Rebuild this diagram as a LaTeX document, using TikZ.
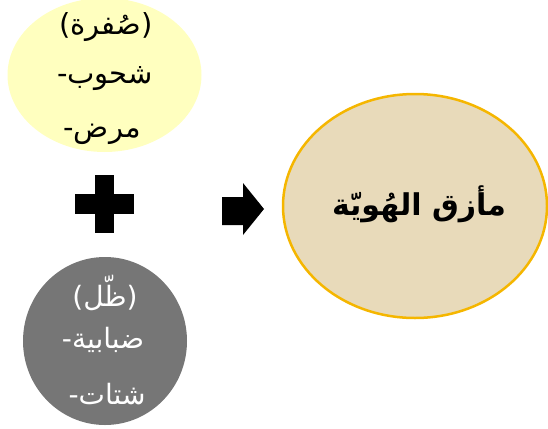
\documentclass[tikz,border=0pt]{standalone}
\usepackage{fontspec}
\usepackage{tikz}
\usetikzlibrary{
    shapes.geometric
}
\TeXXeTstate=1
\newfontfamily\arabicfont[Script=Arabic]{DejaVu Sans}
\newfontfamily\latinfont{DejaVu Sans}
\newcommand{\artxt}[1]{\beginR #1\endR}
\newcommand{\lt}[1]{\mbox{\latinfont #1}}
\tikzset{
  bubble/.style = {ellipse, inner sep=0pt, draw=none},
  ytxt/.style   = {font=\arabicfont\fontsize{29}{33}\selectfont, text=black},
  gtxt/.style   = {font=\arabicfont\fontsize{28}{32}\selectfont, text=white},
  ctxt/.style   = {font=\arabicfont\bfseries\fontsize{30}{34}\selectfont, text=black},
  sign/.style   = {fill=black}
}
\definecolor{SoftYellow}{RGB}{255,255,191}
\definecolor{ShadeGray}{RGB}{118,118,118}
\definecolor{Parchment}{RGB}{232,218,186}
\definecolor{GoldLine}{RGB}{245,182,0}

\begin{document}
\begin{tikzpicture}[x=1pt, y=-1pt]
\useasboundingbox (0,0) rectangle (548,428);
% two states on the left
\node[bubble, fill=SoftYellow, minimum width=194pt, minimum height=154pt] (pale) at (104.5,75) {};
\node[bubble, fill=ShadeGray, minimum width=164pt, minimum height=168pt] (shade) at (105,341) {};
\node[ytxt] (p1) at (106,27) {\lt{(}\artxt{صُفرة}\lt{)}};
\node[ytxt] (p2) at (105,79) {\lt{-}\artxt{شحوب}};
\node[ytxt] (p3) at (102,134) {\lt{-}\artxt{مرض}};
\node[gtxt] (s1) at (105,293) {\lt{(}\artxt{ظّل}\lt{)}};
\node[gtxt] (s2) at (103,340) {\lt{-}\artxt{ضبابية}};
\node[gtxt] (s3) at (107,394) {\lt{-}\artxt{شتات}};
% plus and arrow
\fill[sign] (95,175) rectangle (114,233);
\fill[sign] (75,194) rectangle (134,214);
\fill[sign] (222,197) -- (243,197) -- (243,183) -- (264,209) -- (243,235) -- (243,225) -- (222,225) -- cycle;
% result
\node[bubble, fill=Parchment, draw=GoldLine, line width=2.5pt, minimum width=264pt, minimum height=224pt] (crisis) at (415,206) {};
\node[ctxt] (c1) at (419,204) {\artxt{مأزق الهُويّة}};
\end{tikzpicture}
\end{document}
